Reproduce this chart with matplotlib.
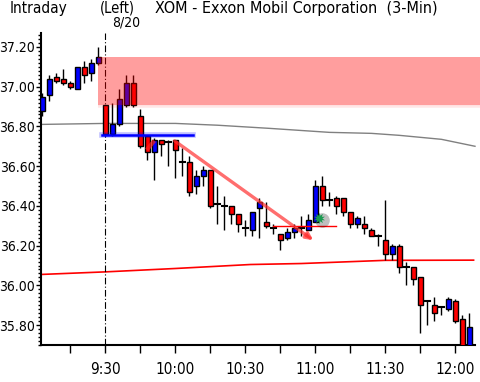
import matplotlib
matplotlib.use("Agg")
import matplotlib.pyplot as plt
from matplotlib.ticker import MultipleLocator, FixedLocator, FuncFormatter

plt.rcParams["font.stretch"] = "condensed"

# bar index 0 = 9:30 (3-min bars)
bar_idx = list(range(-9, 53))
opens = [36.88, 36.96, 37.05, 37.04, 37.02, 36.99, 37.10, 37.07, 37.12,
         36.91, 36.76, 36.81, 36.91, 37.02, 36.85, 36.75, 36.67, 36.73, 36.72,
         36.73, 36.62, 36.62, 36.50, 36.55, 36.58, 36.41, 36.40, 36.40, 36.36,
         36.29, 36.28, 36.39, 36.32, 36.29, 36.26, 36.24, 36.27, 36.29, 36.28,
         36.32, 36.50, 36.43, 36.44, 36.44, 36.37, 36.31, 36.31, 36.28, 36.25,
         36.23, 36.16, 36.20, 36.09, 36.09, 36.04, 35.92, 35.90, 35.89, 35.88,
         35.92, 35.83, 35.68]
highs = [36.97, 37.06, 37.07, 37.09, 37.03, 37.10, 37.13, 37.14, 37.20,
         36.91, 36.92, 36.99, 37.06, 37.06, 36.89, 36.75, 36.74, 36.73, 36.73,
         36.73, 36.69, 36.65, 36.58, 36.60, 36.58, 36.50, 36.45, 36.40, 36.36,
         36.33, 36.37, 36.44, 36.42, 36.31, 36.26, 36.29, 36.31, 36.35, 36.36,
         36.53, 36.55, 36.47, 36.45, 36.44, 36.37, 36.35, 36.35, 36.29, 36.26,
         36.43, 36.21, 36.21, 36.12, 36.09, 36.04, 35.92, 35.94, 35.89, 35.94,
         35.93, 35.85, 35.86]
lows = [36.85, 36.93, 37.02, 37.01, 36.99, 36.99, 37.02, 37.03, 37.11,
        36.75, 36.75, 36.80, 36.90, 36.90, 36.69, 36.63, 36.53, 36.65, 36.60,
        36.54, 36.55, 36.45, 36.46, 36.50, 36.39, 36.31, 36.28, 36.31, 36.27,
        36.25, 36.25, 36.24, 36.29, 36.26, 36.18, 36.23, 36.24, 36.25, 36.28,
        36.32, 36.40, 36.40, 36.36, 36.35, 36.29, 36.29, 36.26, 36.25, 36.20,
        36.13, 36.13, 36.06, 36.00, 36.00, 35.76, 35.80, 35.82, 35.85, 35.87,
        35.81, 35.66, 35.66]
closes = [36.95, 37.04, 37.03, 37.02, 37.00, 37.10, 37.06, 37.12, 37.15,
          36.76, 36.81, 36.94, 37.02, 36.91, 36.70, 36.67, 36.73, 36.71, 36.72,
          36.68, 36.62, 36.47, 36.55, 36.58, 36.40, 36.41, 36.40, 36.36, 36.31,
          36.29, 36.37, 36.42, 36.30, 36.29, 36.23, 36.27, 36.29, 36.29, 36.33,
          36.50, 36.43, 36.43, 36.40, 36.37, 36.31, 36.34, 36.29, 36.25, 36.25,
          36.16, 36.20, 36.09, 36.09, 36.03, 35.90, 35.92, 35.86, 35.89, 35.93,
          35.82, 35.68, 35.79]

# moving averages
gray_ma_x = [-9.2, 0, 10, 16, 23.5, 32, 38, 42, 48, 52.8]
gray_ma_y = [36.81, 36.815, 36.815, 36.806, 36.79, 36.77, 36.765, 36.755, 36.735, 36.70]
red_ma_x = [-9.2, 0, 10, 20.7, 28, 34, 40, 52.6]
red_ma_y = [36.055, 36.068, 36.085, 36.105, 36.11, 36.118, 36.126, 36.127]

# drawings
zone_x = [-1.1, 53.7]
zone_lo, zone_hi = 36.907, 37.15
blue_line_x = [-0.5, 12.5]
blue_line_y = 36.755
red_line_x = [24.0, 32.9]
red_line_y = 36.30
arrow_start = (9.9, 36.727)
arrow_end = (29.7, 36.227)
star_pt = (30.5, 36.34)

tick_pos = [-5, 0, 5, 10, 15, 20, 25, 30, 35, 40, 45, 50]
tick_lbl = {0: "9:30", 10: "10:00", 20: "10:30", 30: "11:00", 40: "11:30", 50: "12:00"}

fig = plt.figure(figsize=(4.81, 3.82), dpi=100)
ax = fig.add_axes([41/481, 37/382, 434/481, 312/382])

w = 0.36
for i, o, h, l, c in zip(bar_idx, opens, highs, lows, closes):
    ax.plot([i, i], [l, h], color="black", lw=1, zorder=2, solid_capstyle="butt")
    if abs(c - o) < 0.005:
        ax.plot([i - w, i + w], [c, c], color="black", lw=1.5, zorder=3)
    else:
        col = "blue" if c > o else "red"
        ax.add_patch(plt.Rectangle((i - w, min(o, c)), 2 * w, abs(c - o),
                                   facecolor=col, edgecolor="black", lw=1, zorder=3))

ax.plot(gray_ma_x, gray_ma_y, color="#808080", lw=1, zorder=1, clip_on=False)
ax.plot(red_ma_x, red_ma_y, color="red", lw=1.2, zorder=1, clip_on=False)

# supply zone (drawn over candles)
ax.fill_between(zone_x, zone_lo, zone_hi, color="red", alpha=0.38, lw=0, zorder=4, clip_on=False)
for k in range(4):
    ax.fill_between(zone_x, zone_lo - 0.004 * (k + 1), zone_lo - 0.004 * k,
                    color="red", alpha=0.12 - 0.025 * k, lw=0, zorder=4, clip_on=False)

ax.plot(blue_line_x, [blue_line_y] * 2, color="blue", lw=4, alpha=0.25, zorder=5)
ax.plot(blue_line_x, [blue_line_y] * 2, color="blue", lw=1.8, zorder=5)
ax.plot(red_line_x, [red_line_y] * 2, color="red", lw=1, zorder=5)

ax.annotate("", xy=arrow_end, xytext=arrow_start, zorder=6,
            arrowprops=dict(arrowstyle="-|>", color="#ff3030", lw=2.4, alpha=0.7,
                            mutation_scale=10, shrinkA=0, shrinkB=0))
ax.plot([6.8, 6.1], [36.72, 36.69], color="#ff2020", lw=3, alpha=0.7, zorder=6)
ax.scatter([star_pt[0] + 0.5], [star_pt[1] - 0.012], s=110, color="black", alpha=0.25, zorder=6, lw=0)
ax.scatter([star_pt[0]], [star_pt[1]], s=70, marker=(10, 1, 0), color="#1a9a50", zorder=7, lw=0)

ax.axvline(0, color="black", lw=0.8, ls=(0, (6, 2, 1, 2)), zorder=1)

ax.set_xlim(-9.2, 52.8)
ax.set_ylim(35.70, 37.27)
ax.spines["top"].set_visible(False)
ax.spines["right"].set_visible(False)
ax.spines["left"].set_linewidth(1.5)
ax.spines["bottom"].set_linewidth(1.5)
ax.yaxis.set_major_locator(MultipleLocator(0.2))
ax.yaxis.set_minor_locator(MultipleLocator(0.02))
ax.yaxis.set_major_formatter(FuncFormatter(lambda v, p: f"{v:.2f}"))
ax.xaxis.set_major_locator(FixedLocator(tick_pos))
ax.xaxis.set_major_formatter(FuncFormatter(lambda v, p: tick_lbl.get(int(round(v)), "")))
ax.tick_params(axis="y", which="major", length=3.6, width=1, labelsize=10, pad=0.5)
ax.tick_params(axis="y", which="minor", length=2, width=1)
ax.tick_params(axis="x", length=5.5, width=1, labelsize=11, pad=7)

fig.text(10/481, 1 - 8/382, "Intraday", fontsize=11, va="center", ha="left")
fig.text(100/481, 1 - 8/382, "(Left)", fontsize=10.5, va="center", ha="left")
fig.text(155/481, 1 - 8/382, "XOM - Exxon Mobil Corporation  (3-Min)", fontsize=11.5,
         va="center", ha="left")
fig.text(126/481, 1 - 23/382, "8/20", fontsize=10, va="center", ha="center")

fig.savefig("out.png", dpi=100)
